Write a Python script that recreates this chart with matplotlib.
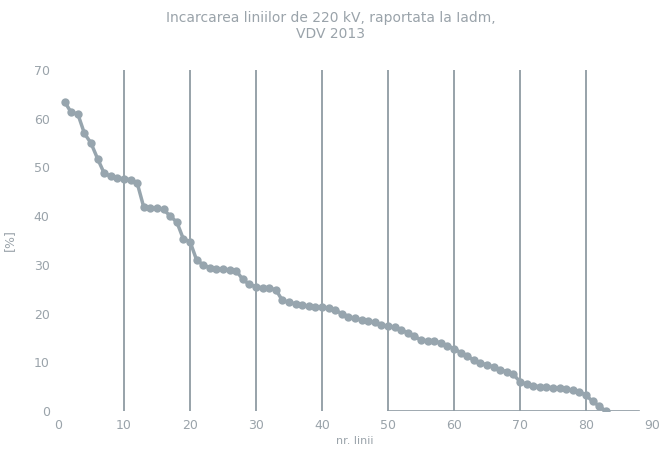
import numpy as np
import matplotlib.pyplot as plt

# line number (sorted by loading) and loading relative to Iadm [%]
nr_linie = list(range(1, 84))
incarcare = [63.5, 61.3, 61.0, 57.0, 55.0, 51.8, 48.8, 48.2, 47.8, 47.7,
             47.5, 46.8, 41.8, 41.7, 41.7, 41.4, 40.0, 38.8, 35.3, 34.8,
             31.0, 30.0, 29.4, 29.2, 29.1, 29.0, 28.8, 27.0, 26.0, 25.5,
             25.3, 25.2, 24.9, 22.7, 22.3, 22.0, 21.7, 21.5, 21.4, 21.3,
             21.1, 20.7, 20.0, 19.4, 19.0, 18.7, 18.5, 18.2, 17.6, 17.4,
             17.2, 16.7, 16.0, 15.3, 14.6, 14.4, 14.3, 14.0, 13.4, 12.8,
             12.0, 11.3, 10.4, 9.8, 9.5, 9.0, 8.5, 8.0, 7.5, 6.0,
             5.5, 5.2, 5.0, 4.9, 4.8, 4.7, 4.5, 4.3, 4.0, 3.2,
             2.0, 1.0, 0.0]

x_ticks = list(range(0, 100, 10))
y_ticks = list(range(0, 80, 10))
grid_x = list(range(10, 90, 10))

txt = "#9aa3aa"
line_col = "#97a5ae"

fig = plt.figure(figsize=(6.62, 4.49), dpi=100)
ax = fig.add_axes([0.0876, 0.0846, 0.8974, 0.7594])

for gx in grid_x:
    ax.axvline(gx, color="#8f9ba3", linewidth=1.3, zorder=1)
ax.plot([50, 88], [0, 0], color="#8f9ba3", linewidth=1.2, zorder=1)

ax.plot(nr_linie, incarcare, color=line_col, linewidth=2.5, marker="o",
        markersize=6, markeredgewidth=0, zorder=3)

ax.set_xlim(0, 90)
ax.set_ylim(0, 70)
ax.set_xticks(x_ticks)
ax.set_yticks(y_ticks)
ax.tick_params(length=0, labelsize=9, colors=txt, pad=6)
for s in ax.spines.values():
    s.set_visible(False)

ax.set_ylabel("[%]", color=txt, fontsize=9)
ax.yaxis.set_label_coords(-0.07, 0.5)
ax.set_xlabel("nr. linii", color=txt, fontsize=8)
ax.xaxis.set_label_coords(0.5, -0.072)

fig.suptitle("Incarcarea liniilor de 220 kV, raportata la Iadm,\nVDV 2013",
             color=txt, fontsize=10, y=0.975)

fig.savefig("out.png", dpi=100)
